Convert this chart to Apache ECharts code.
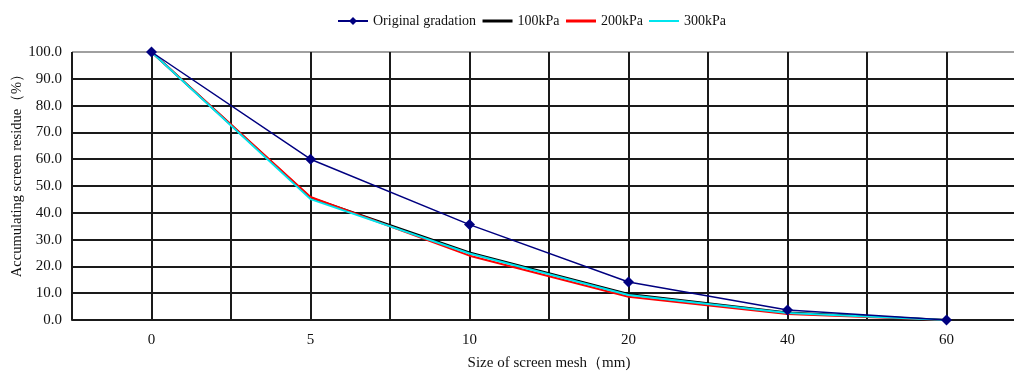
<!DOCTYPE html>
<html><head><meta charset="utf-8">
<script src="https://cdn.jsdelivr.net/npm/echarts@6/dist/echarts.min.js"></script>
<style>html,body{margin:0;padding:0;background:#fff}#c{width:1014px;height:374px}</style>
</head><body><div id="c"></div>
<script>
const categories = ['0', '5', '10', '20', '40', '60'];
const seriesNames = ['Original gradation', '100kPa', '200kPa', '300kPa'];
const original = [100, 60, 35.6, 14.2, 3.7, 0];
const kPa100 = [100, 45.6, 25.2, 9.7, 2.8, 0];
const kPa200 = [100, 45.9, 24.0, 8.7, 2.2, 0];
const kPa300 = [100, 45.1, 24.8, 9.3, 2.6, 0];
const yTicks = [0, 10, 20, 30, 40, 50, 60, 70, 80, 90, 100];

const font = '"Liberation Serif", "Times New Roman", serif';
const toPts = arr => arr.map((v, i) => [i, v]);
const ySplitColors = yTicks.map((t, i) => i === yTicks.length - 1 ? '#a0a0a0' : '#1a1a1a');

const chart = echarts.init(document.getElementById('c'));
chart.setOption({
  animation: false,
  backgroundColor: '#fff',
  textStyle: { fontFamily: font },
  legend: {
    top: 9, left: 332, itemWidth: 30, itemHeight: 10, itemGap: 5,
    textStyle: { fontFamily: font, fontSize: 14, color: '#111' },
    data: [
      { name: seriesNames[0] },
      { name: seriesNames[1], itemStyle: { opacity: 0 }, lineStyle: { width: 3 } },
      { name: seriesNames[2], itemStyle: { opacity: 0 }, lineStyle: { width: 3 } },
      { name: seriesNames[3], itemStyle: { opacity: 0 }, lineStyle: { width: 2 } }
    ]
  },
  grid: { left: 72, right: -12, top: 52, bottom: 54, containLabel: false, outerBoundsMode: 'none' },
  xAxis: {
    type: 'value', min: -0.5, max: 5.5, interval: 0.5,
    name: 'Size of screen mesh（mm)', nameLocation: 'middle', nameGap: 36,
    nameTextStyle: { fontFamily: font, fontSize: 15, color: '#111' },
    axisLine: { show: true, lineStyle: { color: '#1a1a1a', width: 2 } },
    axisTick: { show: false },
    axisLabel: {
      margin: 13, fontFamily: font, fontSize: 15, color: '#111',
      showMinLabel: true, showMaxLabel: true,
      formatter: v => (Math.abs(v - Math.round(v)) < 1e-6 && categories[Math.round(v)] !== undefined) ? categories[Math.round(v)] : ''
    },
    splitLine: { show: true, lineStyle: { color: '#1a1a1a', width: 2 } }
  },
  yAxis: {
    type: 'value', min: 0, max: 100, interval: 10,
    name: 'Accumulating screen residue（%）', nameLocation: 'middle', nameGap: 47, nameRotate: 90,
    nameMoveOverlap: false,
    nameTextStyle: { fontFamily: font, fontSize: 14.5, color: '#111', padding: [0, 0, 0, 28] },
    axisLine: { show: true, lineStyle: { color: '#1a1a1a', width: 2 } },
    axisTick: { show: false },
    axisLabel: { margin: 10, fontFamily: font, fontSize: 15, color: '#111', formatter: v => v.toFixed(1) },
    splitLine: { show: true, lineStyle: { color: ySplitColors, width: 2 } }
  },
  series: [
    { name: seriesNames[1], type: 'line', data: toPts(kPa100), symbol: 'none', lineStyle: { color: '#000', width: 2 }, itemStyle: { color: '#000' }, z: 3 },
    { name: seriesNames[2], type: 'line', data: toPts(kPa200), symbol: 'none', lineStyle: { color: '#ff0000', width: 2 }, itemStyle: { color: '#ff0000' }, z: 4 },
    { name: seriesNames[3], type: 'line', data: toPts(kPa300), symbol: 'none', lineStyle: { color: '#00e5ee', width: 2 }, itemStyle: { color: '#00e5ee' }, z: 5 },
    { name: seriesNames[0], type: 'line', data: toPts(original), symbol: 'diamond', symbolSize: 11, lineStyle: { color: '#000080', width: 1.5 }, itemStyle: { color: '#000080' }, z: 6 }
  ]
});
</script></body></html>
